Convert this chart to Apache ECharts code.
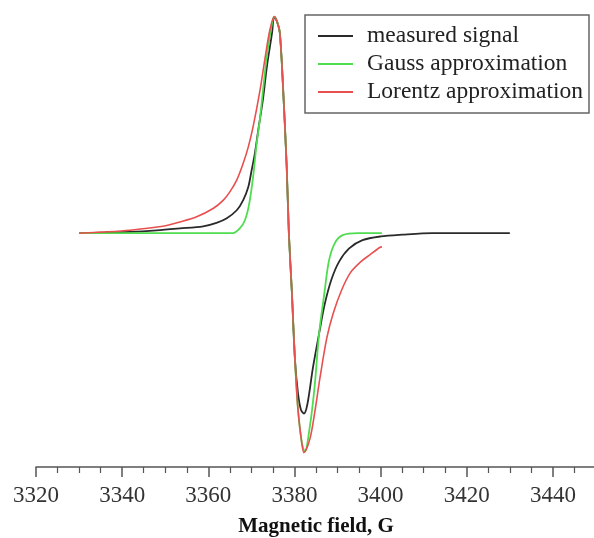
<!DOCTYPE html>
<html>
<head>
<meta charset="utf-8">
<script src="https://cdn.jsdelivr.net/npm/echarts@6/dist/echarts.min.js"></script>
<style>
html,body{margin:0;padding:0;background:#fff;}
#chart{width:594px;height:538px;}
</style>
</head>
<body>
<div id="chart"></div>
<script>
// Magnetic field values (G) and normalized signal amplitudes
var measuredX = [3330, 3336, 3341.8, 3348, 3353.4, 3358.8, 3361.9, 3364.2, 3366.6, 3368.1, 3369.3, 3370.0, 3370.8, 3371.6, 3372.7, 3373.6, 3374.8, 3375.3, 3376.0, 3376.6, 3377.3, 3378.2, 3378.7, 3379.4, 3380.1, 3380.8, 3381.5, 3382.2, 3383.0, 3384.3, 3385.8, 3387.0, 3388.6, 3390.4, 3392.7, 3395.8, 3400, 3405, 3412, 3420, 3430];
var measuredY = [0, 0.003, 0.006, 0.013, 0.022, 0.032, 0.048, 0.068, 0.106, 0.153, 0.215, 0.285, 0.368, 0.477, 0.62, 0.77, 0.925, 1.0, 0.975, 0.926, 0.694, 0.306, 0, -0.273, -0.579, -0.736, -0.815, -0.833, -0.79, -0.62, -0.455, -0.33, -0.213, -0.13, -0.07, -0.032, -0.015, -0.007, 0, 0, 0];

var gaussX = [3330, 3350, 3365.7, 3367.3, 3368.5, 3369.5, 3370.4, 3371.2, 3372.0, 3372.8, 3373.6, 3374.8, 3375.3, 3376.0, 3376.6, 3377.3, 3378.2, 3378.7, 3379.4, 3380.1, 3380.8, 3381.7, 3382.4, 3383.6, 3384.7, 3385.7, 3386.9, 3388.0, 3389.4, 3391.2, 3394.8, 3400.3];
var gaussY = [0, 0, 0, 0.022, 0.06, 0.137, 0.26, 0.41, 0.53, 0.68, 0.82, 0.97, 1.0, 0.975, 0.926, 0.694, 0.306, 0, -0.273, -0.579, -0.81, -0.968, -1.009, -0.889, -0.704, -0.467, -0.284, -0.128, -0.045, -0.009, 0, 0];

var lorentzX = [3330, 3336, 3341.8, 3349.5, 3353.4, 3357.3, 3361.1, 3363.5, 3365.0, 3366.6, 3368.1, 3369.3, 3370.4, 3372.0, 3373.1, 3374.3, 3375.3, 3376.0, 3376.6, 3377.3, 3378.2, 3378.7, 3379.4, 3380.1, 3380.8, 3381.7, 3382.2, 3383.6, 3384.7, 3385.9, 3387.5, 3389.0, 3391.0, 3393.0, 3395.5, 3397.5, 3399.8, 3400.3];
var lorentzY = [0, 0.006, 0.014, 0.032, 0.052, 0.076, 0.114, 0.153, 0.191, 0.245, 0.323, 0.40, 0.492, 0.66, 0.80, 0.94, 1.0, 0.975, 0.926, 0.694, 0.306, 0, -0.273, -0.579, -0.81, -0.968, -1.014, -0.949, -0.829, -0.671, -0.485, -0.37, -0.26, -0.182, -0.13, -0.10, -0.066, -0.063];

var seriesNames = ['measured signal', 'Gauss approximation', 'Lorentz approximation'];
var majorTicks = [3320, 3340, 3360, 3380, 3400, 3420, 3440];
var minorTicks = [3325, 3330, 3335, 3345, 3350, 3355, 3365, 3370, 3375, 3385, 3390, 3395, 3405, 3410, 3415, 3425, 3430, 3435, 3445];
var xTitle = 'Magnetic field, G';

function pairs(xs, ys) { return xs.map(function (x, i) { return [x, ys[i]]; }); }

var serif = '"Liberation Serif", "DejaVu Serif", serif';
var chart = echarts.init(document.getElementById('chart'), null, {renderer: 'canvas'});
chart.setOption({
  animation: false,
  backgroundColor: '#ffffff',
  grid: {left: 36, top: 12.4, width: 560, height: 454.6, containLabel: false, outerBoundsMode: 'none'},
  legend: {
    orient: 'vertical',
    left: 305, top: 15,
    padding: [9, 6, 9, 13],
    borderColor: '#666', borderWidth: 1.5,
    icon: 'rect',
    itemWidth: 35, itemHeight: 2, itemGap: 4,
    textStyle: {fontFamily: serif, fontSize: 23.5, color: '#222', lineHeight: 24, padding: [0, 0, 0, 9]},
    data: seriesNames
  },
  xAxis: [{
    type: 'value', min: 3320, max: 3450,
    position: 'bottom',
    axisLine: {show: true, onZero: false, lineStyle: {color: '#555', width: 1.5}},
    axisTick: {show: true, length: 10, customValues: majorTicks, lineStyle: {color: '#555', width: 1.5}},
    axisLabel: {customValues: majorTicks, margin: 17, fontFamily: serif, fontSize: 23, color: '#333',
      formatter: function (v) { return String(v); }},
    splitLine: {show: false},
    name: xTitle, nameLocation: 'middle', nameGap: 49,
    nameTextStyle: {fontFamily: serif, fontSize: 21, fontWeight: 'bold', color: '#111'}
  }, {
    type: 'value', min: 3320, max: 3450,
    position: 'bottom',
    axisLine: {show: false, onZero: false},
    axisTick: {show: true, length: 6, customValues: minorTicks, lineStyle: {color: '#555', width: 1.2}},
    axisLabel: {show: false},
    splitLine: {show: false}
  }],
  yAxis: {
    type: 'value', min: -1.08, max: 1.02, show: false
  },
  series: [{
    name: seriesNames[0], type: 'line', data: pairs(measuredX, measuredY),
    showSymbol: false, symbol: 'none', smooth: 0.3,
    lineStyle: {color: '#2a2a2a', width: 1.8}, itemStyle: {color: '#2a2a2a'}, z: 2
  }, {
    name: seriesNames[1], type: 'line', data: pairs(gaussX, gaussY),
    showSymbol: false, symbol: 'none', smooth: 0.3,
    lineStyle: {color: '#4fdc4f', width: 1.8}, itemStyle: {color: '#4fdc4f'}, z: 3
  }, {
    name: seriesNames[2], type: 'line', data: pairs(lorentzX, lorentzY),
    showSymbol: false, symbol: 'none', smooth: 0.3,
    lineStyle: {color: '#e8504f', width: 1.6}, itemStyle: {color: '#e8504f'}, z: 4
  }]
});
</script>
</body>
</html>
